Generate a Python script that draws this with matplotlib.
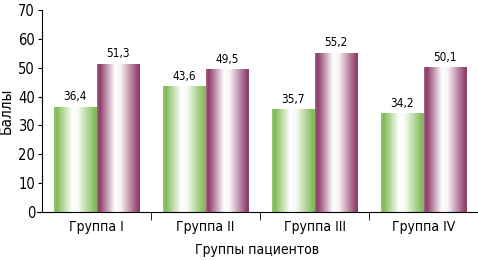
import numpy as np
import matplotlib.pyplot as plt
from matplotlib.colors import to_rgb

plt.rcParams['font.family'] = ['DejaVu Sans']
plt.rcParams['font.stretch'] = 'condensed'

groups = ["Группа I", "Группа II", "Группа III", "Группа IV"]
green_vals = [36.4, 43.6, 35.7, 34.2]
maroon_vals = [51.3, 49.5, 55.2, 50.1]
green_lbl = ["36,4", "43,6", "35,7", "34,2"]
maroon_lbl = ["51,3", "49,5", "55,2", "50,1"]

fig = plt.figure(figsize=(4.78, 2.6), dpi=100)
ax = fig.add_axes([37 / 478, 48 / 260, 441 / 478, 202 / 260])

x = np.arange(len(groups))
w = 0.39

# whiteness profile across a bar (cylinder-like shading)
tt = np.linspace(0, 1, 200)
white = np.interp(tt, [0, 0.06, 0.42, 0.55, 0.97, 1], [0.2, 0.0, 1.0, 0.95, 0.0, 0.05])


def shade(color):
    c = np.array(to_rgb(color))
    img = c[None, :] * (1 - white[:, None]) + white[:, None]
    return img[None, :, :]


def gradient_bars(xs, vals, color):
    bars = ax.bar(xs, vals, w, color='none', edgecolor='none')
    img = shade(color)
    for b in bars:
        x0, y0 = b.get_x(), b.get_y()
        im = ax.imshow(img, extent=(x0, x0 + b.get_width(), y0, y0 + b.get_height()),
                       aspect='auto', interpolation='bilinear', zorder=2)
        im.set_clip_path(b)
    return bars


gb = gradient_bars(x - w / 2, green_vals, '#7fba55')
mb = gradient_bars(x + w / 2, maroon_vals, '#8e3a68')

for b, t in zip(list(gb) + list(mb), green_lbl + maroon_lbl):
    ax.text(b.get_x() + b.get_width() / 2, b.get_height() + 1.2, t,
            ha='center', va='bottom', fontsize=8.5)

ax.set_xlim(-0.546, len(groups) - 0.5)
ax.set_ylim(0, 70)
ax.spines['left'].set_position(('data', -0.5))
ax.set_yticks(range(0, 71, 10))
ax.set_xticks(x)
ax.set_xticklabels(groups, fontsize=10)
ax.set_xticks(np.arange(len(groups)) + 0.5, minor=True)
ax.tick_params(axis='x', which='major', length=0, pad=6)
ax.tick_params(axis='x', which='minor', length=6, direction='out')
ax.tick_params(axis='y', labelsize=10.5, length=3, pad=2)

ax.spines['top'].set_visible(False)
ax.spines['right'].set_visible(False)
ax.set_ylabel("Баллы", fontsize=11, labelpad=3)
ax.set_xlabel("Группы пациентов", fontsize=10, labelpad=6)

fig.savefig("out.png", dpi=100)
